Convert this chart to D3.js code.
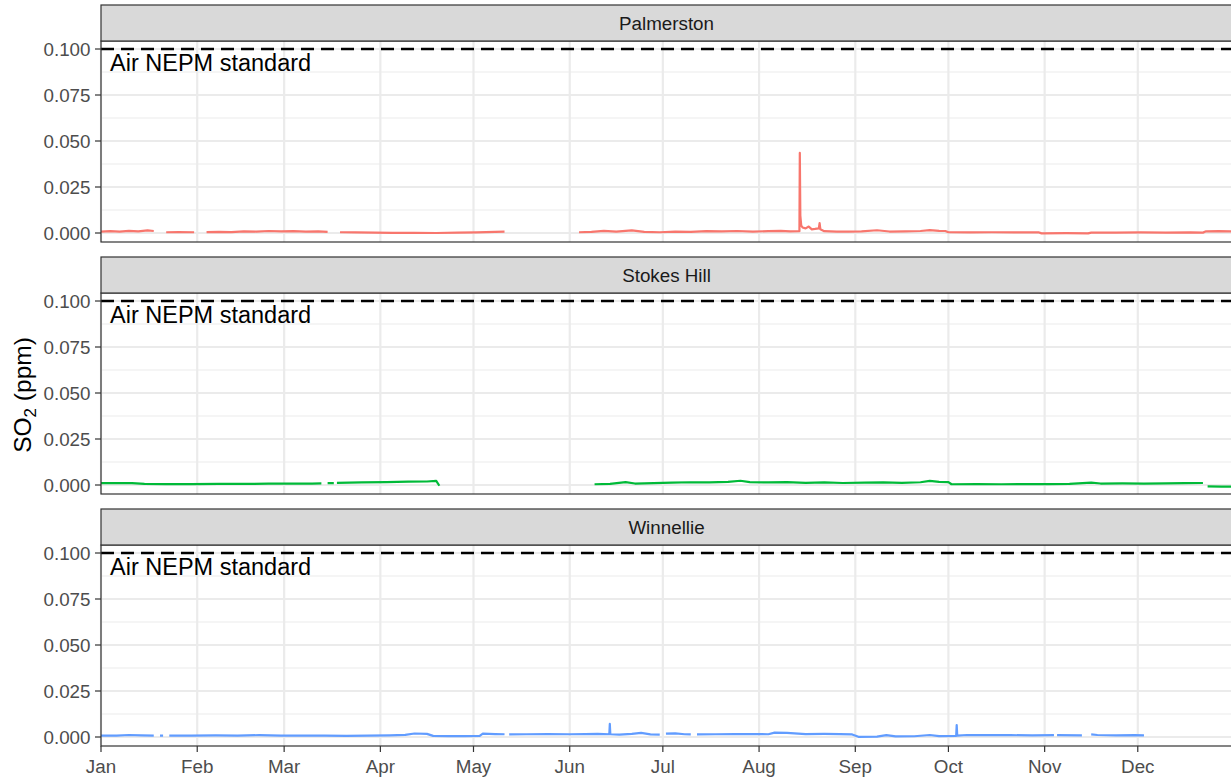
<!DOCTYPE html>
<html>
<head>
<meta charset="utf-8">
<script src="https://cdn.jsdelivr.net/npm/d3@7"></script>
<style>
  html, body { margin: 0; padding: 0; background: #fff; }
  svg { display: block; font-family: "Liberation Sans", Arial, sans-serif; }
</style>
</head>
<body>
<svg id="chart" width="1231" height="780"></svg>
<script>
// ---------------- DATA ----------------
const sites = ["Palmerston", "Stokes Hill", "Winnellie"];
const siteColors = ["#F8766D", "#00BA38", "#619CFF"];
const yTicks = [0, 0.025, 0.05, 0.075, 0.1];
const yMinor = [0.0125, 0.0375, 0.0625, 0.0875];
const monthLabels = ["Jan","Feb","Mar","Apr","May","Jun","Jul","Aug","Sep","Oct","Nov","Dec"];
const standardValue = 0.1;
const standardLabel = "Air NEPM standard";

const palmerston = [
  ["2021-01-01",0.0007],["2021-01-04",0.0010],["2021-01-07",0.0008],["2021-01-10",0.0012],["2021-01-13",0.0009],["2021-01-16",0.0014],["2021-01-18",0.0011],["2021-01-19",null],
  ["2021-01-22",0.0004],["2021-01-26",0.0005],["2021-01-31",0.0004],["2021-02-01",null],
  ["2021-02-04",0.0005],["2021-02-08",0.0006],["2021-02-12",0.0005],["2021-02-16",0.0009],["2021-02-20",0.0008],["2021-02-24",0.0011],["2021-02-28",0.0009],["2021-03-04",0.0010],["2021-03-08",0.0008],["2021-03-12",0.0009],["2021-03-15",0.0006],["2021-03-16",null],
  ["2021-03-19",0.0004],["2021-03-24",0.0003],["2021-03-30",0.0002],["2021-04-05",0.0001],["2021-04-12",0.0001],["2021-04-19",0.0000],["2021-04-26",0.0002],["2021-05-02",0.0003],["2021-05-08",0.0006],["2021-05-11",0.0007],["2021-05-12",null],
  ["2021-06-04",0.0004],["2021-06-08",0.0006],["2021-06-12",0.0012],["2021-06-16",0.0007],["2021-06-21",0.0014],["2021-06-25",0.0006],["2021-06-30",0.0004],["2021-07-05",0.0008],["2021-07-10",0.0006],["2021-07-15",0.0010],["2021-07-20",0.0009],["2021-07-25",0.0011],["2021-07-30",0.0008],["2021-08-04",0.0010],["2021-08-08",0.0012],["2021-08-11",0.0009],
  ["2021-08-14T00",0.0010],["2021-08-14T03",0.0435],["2021-08-14T07",0.0095],["2021-08-14T14",0.0040],["2021-08-15",0.0030],["2021-08-16",0.0025],["2021-08-17",0.0035],["2021-08-18",0.0020],["2021-08-19",0.0022],["2021-08-20T06",0.0025],["2021-08-20T12",0.0054],["2021-08-20T18",0.0020],
  ["2021-08-22",0.0010],["2021-08-26",0.0008],["2021-08-30",0.0007],["2021-09-03",0.0009],["2021-09-08",0.0015],["2021-09-12",0.0008],["2021-09-17",0.0009],["2021-09-22",0.0011],["2021-09-25",0.0016],["2021-09-28",0.0012],["2021-09-30",0.0011],
  ["2021-10-01",0.0004],["2021-10-08",0.0003],["2021-10-15",0.0004],["2021-10-22",0.0003],["2021-10-30",0.0004],["2021-10-31",-0.0002],["2021-11-08",-0.0001],["2021-11-15",-0.0002],["2021-11-16",0.0002],["2021-11-24",0.0002],["2021-12-02",0.0003],["2021-12-10",0.0002],["2021-12-18",0.0003],["2021-12-22",0.0002],["2021-12-23",0.0009],["2021-12-27",0.0010],["2021-12-31T23",0.0009]
];

const stokesHill = [
  ["2021-01-01",0.0010],["2021-01-06",0.0011],["2021-01-11",0.0010],["2021-01-15",0.0006],["2021-01-22",0.0005],["2021-01-30",0.0005],["2021-02-08",0.0006],["2021-02-16",0.0006],["2021-02-24",0.0007],["2021-03-04",0.0008],["2021-03-10",0.0008],["2021-03-13",0.0009],["2021-03-14",null],
  ["2021-03-15",0.0010],["2021-03-17",0.0010],["2021-03-17T12",null],
  ["2021-03-18",0.0012],["2021-03-26",0.0014],["2021-04-03",0.0016],["2021-04-10",0.0018],["2021-04-16",0.0019],["2021-04-19",0.0022],["2021-04-20",-0.0004],["2021-04-21",null],
  ["2021-06-09",0.0004],["2021-06-14",0.0006],["2021-06-19",0.0016],["2021-06-22",0.0008],["2021-06-28",0.0010],["2021-07-04",0.0013],["2021-07-10",0.0015],["2021-07-16",0.0014],["2021-07-22",0.0017],["2021-07-26",0.0023],["2021-07-29",0.0016],["2021-08-04",0.0014],["2021-08-10",0.0016],["2021-08-16",0.0012],["2021-08-22",0.0014],["2021-08-28",0.0011],["2021-09-04",0.0013],["2021-09-10",0.0014],["2021-09-16",0.0012],["2021-09-22",0.0015],["2021-09-25",0.0022],["2021-09-28",0.0017],["2021-10-01",0.0016],
  ["2021-10-02",0.0004],["2021-10-10",0.0005],["2021-10-18",0.0004],["2021-10-26",0.0005],["2021-11-02",0.0005],["2021-11-09",0.0006],["2021-11-16",0.0013],["2021-11-19",0.0008],["2021-11-26",0.0009],["2021-12-03",0.0008],["2021-12-10",0.0009],["2021-12-16",0.0010],["2021-12-22",0.0011],["2021-12-23",null],
  ["2021-12-23T12",-0.0008],["2021-12-28",-0.0009],["2021-12-31T23",-0.0009]
];

const winnellie = [
  ["2021-01-01",0.0007],["2021-01-06",0.0008],["2021-01-10",0.0011],["2021-01-14",0.0009],["2021-01-18",0.0008],["2021-01-19",null],
  ["2021-01-20",0.0007],["2021-01-21",0.0007],["2021-01-22",null],
  ["2021-01-23",0.0007],["2021-01-30",0.0008],["2021-02-07",0.0009],["2021-02-14",0.0008],["2021-02-21",0.0010],["2021-02-28",0.0008],["2021-03-07",0.0007],["2021-03-14",0.0008],["2021-03-21",0.0006],["2021-03-28",0.0007],["2021-04-04",0.0009],["2021-04-09",0.0012],["2021-04-12",0.0019],["2021-04-16",0.0017],["2021-04-18",0.0006],["2021-04-23",0.0005],["2021-04-28",0.0005],["2021-05-03",0.0006],["2021-05-04",0.0018],["2021-05-08",0.0016],["2021-05-11",0.0015],["2021-05-12",null],
  ["2021-05-12T12",0.0014],["2021-05-18",0.0015],["2021-05-25",0.0016],["2021-06-01",0.0015],["2021-06-06",0.0016],["2021-06-10",0.0017],["2021-06-13T18",0.0015],["2021-06-13T22",0.0071],["2021-06-14T02",0.0015],["2021-06-17",0.0013],["2021-06-21",0.0017],["2021-06-24",0.0022],["2021-06-27",0.0014],["2021-06-30",0.0013],["2021-07-01",null],
  ["2021-07-02",0.0018],["2021-07-05",0.0020],["2021-07-08",0.0015],["2021-07-10",0.0014],["2021-07-11",null],
  ["2021-07-12",0.0014],["2021-07-18",0.0015],["2021-07-24",0.0016],["2021-07-30",0.0016],["2021-08-04",0.0015],["2021-08-06",0.0024],["2021-08-10",0.0022],["2021-08-16",0.0016],["2021-08-22",0.0017],["2021-08-27",0.0016],["2021-08-31",0.0014],["2021-09-02",0.0001],["2021-09-08",0.0002],["2021-09-11",0.0010],["2021-09-14",0.0003],["2021-09-20",0.0004],["2021-09-25",0.0011],["2021-09-28",0.0005],
  ["2021-10-03T12",0.0006],["2021-10-03T16",0.0065],["2021-10-03T20",0.0008],["2021-10-07",0.0011],["2021-10-14",0.0010],["2021-10-21",0.0010],["2021-10-28",0.0009],["2021-11-04",0.0010],["2021-11-04T12",null],
  ["2021-11-05",0.0010],["2021-11-13",0.0009],["2021-11-14",null],
  ["2021-11-16",0.0014],["2021-11-18",0.0011],["2021-11-24",0.0009],["2021-11-30",0.0010],["2021-12-03",0.0009]
];
const siteData = [palmerston, stokesHill, winnellie];

// ---------------- LAYOUT ----------------
const svg = d3.select("#chart");
const W = 1231, H = 780;
const left = 101, right = 1234;
const panelTops = [41, 293, 545];
const panelH = 201, stripH = 36;

const parse = s => new Date(s.length > 10 ? s + ":00:00Z" : s + "T00:00:00Z");
const x = d3.scaleUtc()
  .domain([new Date(Date.UTC(2021,0,1)), new Date(Date.UTC(2022,0,1))])
  .range([left, right]);
const monthTicks = d3.utcMonth.range(new Date(Date.UTC(2021,0,1)), new Date(Date.UTC(2022,0,1)));

const textCol = "#4D4D4D", borderCol = "#333333", gridCol = "#EBEBEB";

const defs = svg.append("defs");

sites.forEach((site, i) => {
  const top = panelTops[i];
  const y = d3.scaleLinear().domain([-0.00489, 0.10435]).range([top + panelH, top]);
  const g = svg.append("g");
  const cid = "clip" + i;
  defs.append("clipPath").attr("id", cid).append("rect")
    .attr("x", left).attr("y", top).attr("width", right - left).attr("height", panelH);

  g.append("rect").attr("x", left).attr("y", top).attr("width", right - left).attr("height", panelH).attr("fill", "#fff");

  g.selectAll(".ymin").data(yMinor).join("line")
    .attr("x1", left).attr("x2", right).attr("y1", d => y(d)).attr("y2", d => y(d))
    .attr("stroke", gridCol).attr("stroke-width", 1.1);
  g.selectAll(".ymaj").data(yTicks).join("line")
    .attr("x1", left).attr("x2", right).attr("y1", d => y(d)).attr("y2", d => y(d))
    .attr("stroke", gridCol).attr("stroke-width", 2.2);
  g.selectAll(".xmaj").data(monthTicks).join("line")
    .attr("x1", d => x(d)).attr("x2", d => x(d)).attr("y1", top).attr("y2", top + panelH)
    .attr("stroke", gridCol).attr("stroke-width", 2.2);

  const line = d3.line()
    .defined(d => d[1] !== null)
    .x(d => x(parse(d[0])))
    .y(d => y(d[1]));
  g.append("path").datum(siteData[i])
    .attr("clip-path", `url(#${cid})`)
    .attr("d", line)
    .attr("fill", "none")
    .attr("stroke", siteColors[i])
    .attr("stroke-width", 2.2)
    .attr("stroke-linejoin", "round");

  g.append("line")
    .attr("x1", left).attr("x2", right)
    .attr("y1", y(standardValue)).attr("y2", y(standardValue))
    .attr("stroke", "#000").attr("stroke-width", 2.3)
    .attr("stroke-dasharray", "13,7");
  g.append("text")
    .attr("x", 110).attr("y", y(standardValue) + 22)
    .attr("font-size", 23.5).attr("fill", "#000")
    .text(standardLabel);

  g.append("rect").attr("x", left).attr("y", top).attr("width", right - left).attr("height", panelH)
    .attr("fill", "none").attr("stroke", borderCol).attr("stroke-width", 1.2);

  g.append("rect").attr("x", left).attr("y", top - stripH).attr("width", right - left).attr("height", stripH)
    .attr("fill", "#D9D9D9").attr("stroke", borderCol).attr("stroke-width", 1.2);
  g.append("text")
    .attr("x", (left + 1231) / 2 + 0.5).attr("y", top - stripH / 2)
    .attr("dy", "0.35em").attr("text-anchor", "middle")
    .attr("font-size", 18.8).attr("fill", "#1A1A1A")
    .text(site);

  const yAxis = g.append("g");
  yAxis.selectAll("line").data(yTicks).join("line")
    .attr("x1", left - 6).attr("x2", left).attr("y1", d => y(d)).attr("y2", d => y(d))
    .attr("stroke", borderCol).attr("stroke-width", 1.2);
  yAxis.selectAll("text").data(yTicks).join("text")
    .attr("x", left - 10.5).attr("y", d => y(d)).attr("dy", "0.36em")
    .attr("text-anchor", "end").attr("font-size", 18.8).attr("fill", textCol)
    .text(d => d3.format(".3f")(d));
});

const bottom = panelTops[2] + panelH;
const xAxis = svg.append("g");
xAxis.selectAll("line").data(monthTicks).join("line")
  .attr("x1", d => x(d)).attr("x2", d => x(d)).attr("y1", bottom).attr("y2", bottom + 6)
  .attr("stroke", borderCol).attr("stroke-width", 1.2);
xAxis.selectAll("text").data(monthTicks).join("text")
  .attr("x", d => x(d)).attr("y", bottom + 26.5)
  .attr("text-anchor", "middle").attr("font-size", 18.8).attr("fill", textCol)
  .text((d, i) => monthLabels[i]);

const yt = svg.append("text")
  .attr("transform", `translate(30.5, 395) rotate(-90)`)
  .attr("text-anchor", "middle").attr("font-size", 24.5).attr("fill", "#000");
yt.append("tspan").text("SO");
yt.append("tspan").attr("font-size", 17).attr("dy", 5).text("2");
yt.append("tspan").attr("dy", -5).text(" (ppm)");
</script>
</body>
</html>
